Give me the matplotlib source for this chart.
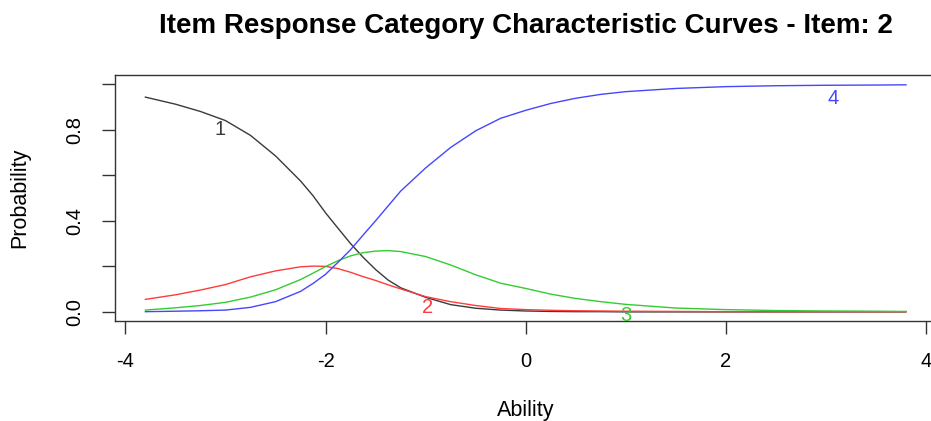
import matplotlib.pyplot as plt

plt.rcParams['axes.unicode_minus'] = False

# Valeurs (ability -> probabilité de chaque catégorie)
ability = [-3.8, -3.5, -3.25, -3.0, -2.75, -2.5, -2.25, -2.125, -2.0, -1.875, -1.75,
           -1.625, -1.5, -1.375, -1.25, -1.0, -0.75, -0.5, -0.25, 0.0, 0.25, 0.5,
           0.75, 1.0, 1.5, 2.0, 2.5, 3.0, 3.5, 3.8]

cat1 = [0.943, 0.912, 0.880, 0.840, 0.775, 0.685, 0.575, 0.510, 0.435, 0.367, 0.300,
        0.240, 0.186, 0.140, 0.106, 0.064, 0.032, 0.016, 0.008, 0.004, 0.002, 0.001,
        0.001, 0.0, 0.0, 0.0, 0.0, 0.0, 0.0, 0.0]
cat2 = [0.055, 0.075, 0.096, 0.120, 0.154, 0.180, 0.198, 0.201, 0.200, 0.190, 0.174,
        0.155, 0.138, 0.119, 0.101, 0.067, 0.045, 0.028, 0.015, 0.010, 0.007, 0.005,
        0.004, 0.003, 0.002, 0.001, 0.001, 0.001, 0.001, 0.001]
cat3 = [0.008, 0.018, 0.028, 0.042, 0.065, 0.097, 0.142, 0.170, 0.199, 0.225, 0.246,
        0.260, 0.267, 0.269, 0.265, 0.243, 0.206, 0.163, 0.126, 0.103, 0.078, 0.059,
        0.045, 0.033, 0.017, 0.010, 0.006, 0.004, 0.003, 0.002]
cat4 = [0.001, 0.003, 0.005, 0.008, 0.020, 0.045, 0.090, 0.125, 0.165, 0.218, 0.273,
        0.337, 0.400, 0.465, 0.530, 0.632, 0.722, 0.795, 0.850, 0.885, 0.915, 0.938,
        0.955, 0.967, 0.981, 0.989, 0.993, 0.995, 0.996, 0.997]

curves = [cat1, cat2, cat3, cat4]
colors = ['#3a3a3a', '#ff3b3b', '#33cc33', '#4646ff']
labels = ['1', '2', '3', '4']
label_x = [-3.05, -0.98, 1.0, 3.07]
label_y = [0.80, 0.02, -0.015, 0.937]

fig = plt.figure(figsize=(9.31, 4.21), dpi=100)
ax = fig.add_axes([0.1235, 0.2375, 0.8823, 0.5843])

for vals, col in zip(curves, colors):
    ax.plot(ability, vals, color=col, linewidth=1.0)

for lab, lx, ly, col in zip(labels, label_x, label_y, colors):
    ax.text(lx, ly, lab, color=col, fontsize=14.5, ha='center', va='center',
            family='Liberation Sans', clip_on=False)

ax.set_xlim(-4.104, 4.104)
ax.set_ylim(-0.04, 1.04)
ax.set_xticks([-4, -2, 0, 2, 4])
ax.set_yticks([0.0, 0.2, 0.4, 0.6, 0.8, 1.0])
ax.set_yticklabels(['0.0', '', '0.4', '', '0.8', ''])

for s in ax.spines.values():
    s.set_color('#333333')
    s.set_linewidth(1.0)

ax.tick_params(length=9.4, width=1.0, color='#333333', pad=13, labelsize=14.5)
for t in ax.get_yticklabels():
    t.set_rotation(90)
    t.set_va('center')
for t in ax.get_xticklabels() + ax.get_yticklabels():
    t.set_family('Liberation Sans')

ax.set_xlabel('Ability', fontsize=15.5, family='Liberation Sans', va='center')
ax.xaxis.set_label_coords(0.5, -0.362)
ax.set_ylabel('Probability', fontsize=15.5, family='Liberation Sans', va='center')
ax.yaxis.set_label_coords(-0.1157, 0.5)

ax.set_title('Item Response Category Characteristic Curves - Item: 2',
             fontsize=20, fontweight='bold', family='Liberation Sans',
             y=1.172, pad=0, va='baseline')

plt.savefig('out.png', dpi=100)
